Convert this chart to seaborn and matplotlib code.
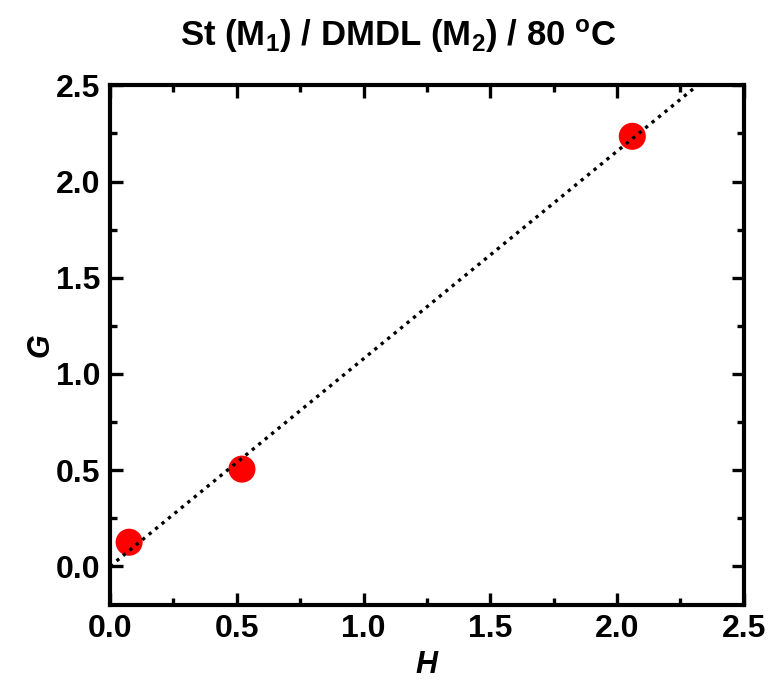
import numpy as np
import pandas as pd
import matplotlib
matplotlib.use("Agg")
import matplotlib.pyplot as plt
import seaborn as sns
from matplotlib.ticker import MultipleLocator

H_vals = [0.075, 0.52, 2.06]
G_vals = [0.125, 0.505, 2.235]
title = "St (M$_1$) / DMDL (M$_2$) / 80 $^{\\mathrm{o}}$C"

sns.set_style("ticks")
plt.rcParams['font.family'] = ['Liberation Sans', 'DejaVu Sans']
plt.rcParams['mathtext.fontset'] = 'custom'
plt.rcParams['mathtext.rm'] = 'Liberation Sans:bold'
plt.rcParams['mathtext.it'] = 'Liberation Sans:italic:bold'
plt.rcParams['mathtext.bf'] = 'Liberation Sans:bold'
plt.rcParams['mathtext.default'] = 'rm'
for k in ['text.color', 'axes.labelcolor', 'xtick.color', 'ytick.color', 'axes.edgecolor']:
    plt.rcParams[k] = 'black'

df = pd.DataFrame({"H": H_vals, "G": G_vals})
slope, intercept = np.polyfit(df["H"], df["G"], 1)
fit = pd.DataFrame({"H": [0.0, 2.5]})
fit["G"] = slope * fit["H"] + intercept

fig = plt.figure(figsize=(7.7, 6.88), dpi=100)
ax = fig.add_axes([0.143, 0.121, 0.823, 0.755])

sns.lineplot(data=fit, x="H", y="G", ax=ax, color="black", linestyle=(0, (1, 1.5)),
             linewidth=2.4, zorder=3)
sns.scatterplot(data=df, x="H", y="G", ax=ax, color="#ff0000", s=380,
                edgecolor="none", zorder=2)

ax.set_xlim(0, 2.5)
ax.set_ylim(-0.2, 2.5)
ax.xaxis.set_major_locator(MultipleLocator(0.5))
ax.xaxis.set_minor_locator(MultipleLocator(0.25))
ax.yaxis.set_major_locator(MultipleLocator(0.5))
ax.yaxis.set_minor_locator(MultipleLocator(0.25))
ax.tick_params(which='both', direction='in', top=True, right=True, width=2.4, color='black')
ax.tick_params(which='major', length=9, labelsize=23, pad=7)
ax.tick_params(which='minor', length=5)
for lab in ax.get_xticklabels() + ax.get_yticklabels():
    lab.set_fontweight('bold')
for sp in ax.spines.values():
    sp.set_linewidth(3)
    sp.set_visible(True)

ax.set_xlabel("H", fontsize=22, fontweight='bold', fontstyle='italic', labelpad=4)
ax.set_ylabel("G", fontsize=22, fontweight='bold', fontstyle='italic', labelpad=0)
ax.set_title(title, fontsize=25, fontweight='bold', pad=28, x=0.455)

fig.savefig("out.png", dpi=100)
